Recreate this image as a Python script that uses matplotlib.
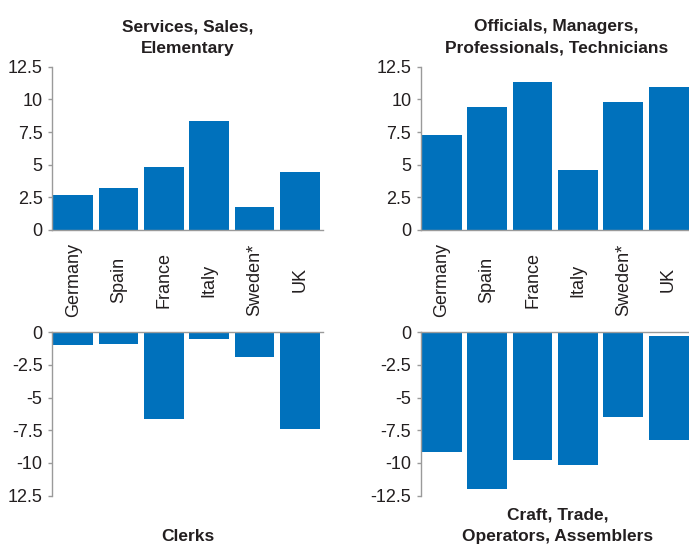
import matplotlib
matplotlib.use('Agg')
import matplotlib.pyplot as plt
import matplotlib.transforms as mtransforms

countries = ['Germany', 'Spain', 'France', 'Italy', 'Sweden*', 'UK']

services = [2.7, 3.2, 4.85, 8.35, 1.75, 4.45]
officials = [7.3, 9.45, 11.3, 4.6, 9.8, 10.95]
clerks = [-0.95, -0.9, -6.65, -0.5, -1.9, -7.4]
craft = [-9.15, -12.0, -9.75, -10.15, -6.5, -8.25]
craft_start = [0, 0, 0, 0, 0, -0.3]

pos_ticks = [0, 2.5, 5, 7.5, 10, 12.5]
pos_labels = ['0', '2.5', '5', '7.5', '10', '12.5']
neg_ticks = [0, -2.5, -5, -7.5, -10, -12.5]
clerk_labels = ['0', '-2.5', '-5', '-7.5', '-10', '12.5']
craft_labels = ['0', '-2.5', '-5', '-7.5', '-10', '-12.5']

plt.rcParams['font.family'] = ['Liberation Sans', 'DejaVu Sans']
blue = '#0071bc'
txt = '#231f20'
grey = '#9a9a9a'

fig = plt.figure(figsize=(6.89, 5.45), dpi=100)

W, H = 689, 545
def add(left, top):
    return fig.add_axes([left / W, 1 - (top + 163.3) / H, 270.7 / W, 163.3 / H])

ax_tl = add(52.3, 66.7)
ax_tr = add(421, 66.7)
ax_bl = add(52.3, 332.3)
ax_br = add(421, 332.3)

x = range(len(countries))

def style(ax, ticks, labels, top_panel):
    ax.set_xlim(-0.46, 5.51)
    if top_panel:
        ax.set_ylim(0, 12.5)
    else:
        ax.set_ylim(-12.5, 0)
    for s in ['top', 'right', 'bottom']:
        ax.spines[s].set_visible(False)
    zero = 'bottom' if top_panel else 'top'
    ax.spines[zero].set_visible(True)
    for s in ['left', zero]:
        ax.spines[s].set_color(grey)
        ax.spines[s].set_linewidth(1)
    ax.set_xticks([])
    ax.set_yticks(ticks)
    ax.set_yticklabels(labels)
    ax.tick_params(axis='y', length=3, width=1, color=grey, pad=4,
                   labelsize=13, labelcolor=txt)

ax_tl.bar(x, services, width=0.88, color=blue)
ax_tr.bar(x, officials, width=0.88, color=blue)
ax_bl.bar(x, clerks, width=0.88, color=blue)
ax_br.bar(x, [c - s for c, s in zip(craft, craft_start)], bottom=craft_start,
          width=0.88, color=blue)

style(ax_tl, pos_ticks, pos_labels, True)
style(ax_tr, pos_ticks, pos_labels, True)
style(ax_bl, neg_ticks, clerk_labels, False)
style(ax_br, neg_ticks, craft_labels, False)

# country labels between the panels
for ax in [ax_tl, ax_tr]:
    trans = mtransforms.blended_transform_factory(ax.transData, ax.transAxes)
    for i, c in enumerate(countries):
        ax.text(i, -50 / 163.3, c, transform=trans, rotation=90,
                ha='center', va='center', fontsize=13, color=txt)

ax_tl.set_title('Services, Sales,\nElementary', fontsize=12.5,
                fontweight='bold', color=txt, pad=10, linespacing=1.55)
ax_tr.set_title('Officials, Managers,\nProfessionals, Technicians', fontsize=12.5,
                fontweight='bold', color=txt, pad=10, linespacing=1.55)

fig.text(188 / W, 1 - 541 / H, 'Clerks', fontsize=12.5, fontweight='bold',
         color=txt, ha='center', va='baseline')
fig.text(558 / W, 1 - 541 / H, 'Craft, Trade,\nOperators, Assemblers', fontsize=12.5,
         fontweight='bold', color=txt, ha='center', va='baseline',
         multialignment='center', linespacing=1.55)

fig.savefig('out.png', dpi=100)
